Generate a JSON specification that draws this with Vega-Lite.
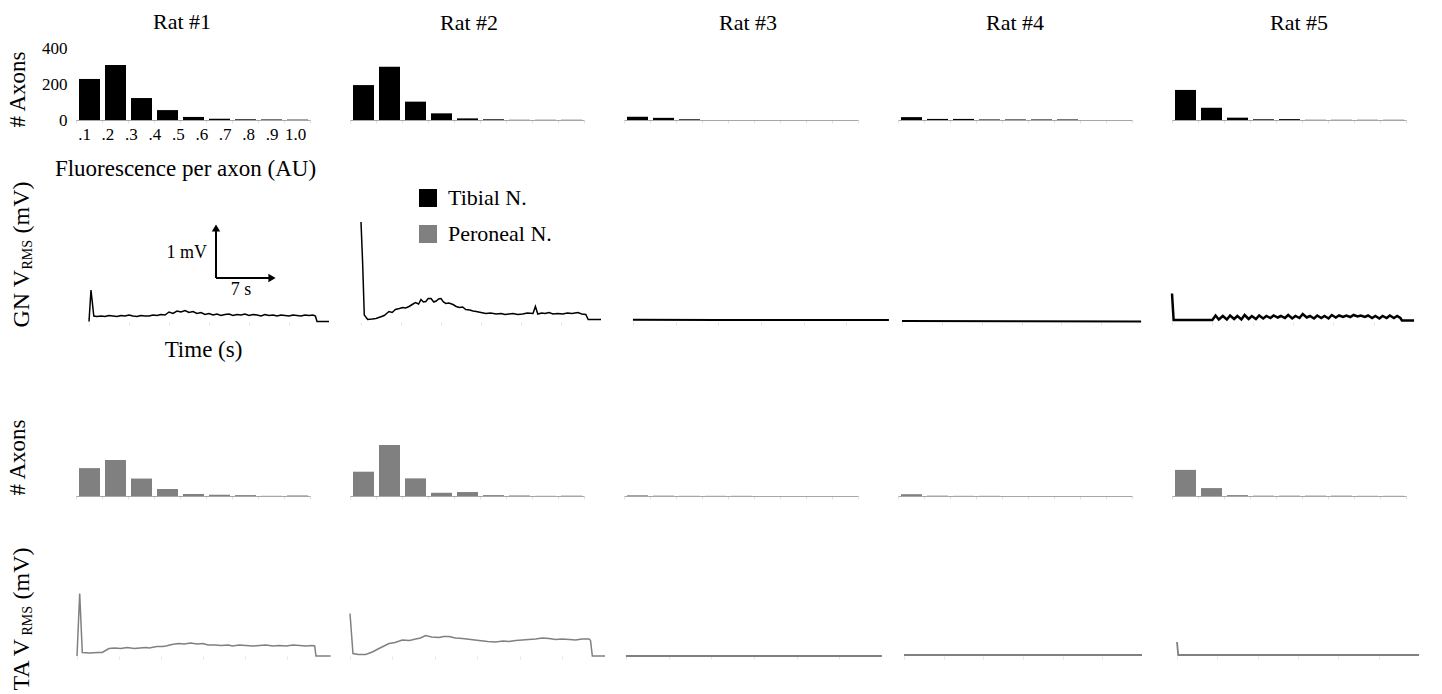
{
  "$schema": "https://vega.github.io/schema/vega-lite/v6.json",
  "background": "white",
  "padding": {"left": 6, "top": 11, "right": 5, "bottom": 5},
  "bounds": "flush",
  "columns": 5,
  "spacing": {"row": 102, "column": 40},
  "datasets": {
    "hist": [
      {"rat":"Rat #1","nerve":"Tibial N.","lo":0.1,"hi":0.2,"axons":228},
      {"rat":"Rat #1","nerve":"Tibial N.","lo":0.2,"hi":0.3,"axons":305},
      {"rat":"Rat #1","nerve":"Tibial N.","lo":0.3,"hi":0.4,"axons":122},
      {"rat":"Rat #1","nerve":"Tibial N.","lo":0.4,"hi":0.5,"axons":55},
      {"rat":"Rat #1","nerve":"Tibial N.","lo":0.5,"hi":0.6,"axons":17},
      {"rat":"Rat #1","nerve":"Tibial N.","lo":0.6,"hi":0.7,"axons":7},
      {"rat":"Rat #1","nerve":"Tibial N.","lo":0.7,"hi":0.8,"axons":4},
      {"rat":"Rat #1","nerve":"Tibial N.","lo":0.8,"hi":0.9,"axons":3},
      {"rat":"Rat #1","nerve":"Tibial N.","lo":0.9,"hi":1.0,"axons":2},
      {"rat":"Rat #2","nerve":"Tibial N.","lo":0.1,"hi":0.2,"axons":194},
      {"rat":"Rat #2","nerve":"Tibial N.","lo":0.2,"hi":0.3,"axons":296},
      {"rat":"Rat #2","nerve":"Tibial N.","lo":0.3,"hi":0.4,"axons":102},
      {"rat":"Rat #2","nerve":"Tibial N.","lo":0.4,"hi":0.5,"axons":37},
      {"rat":"Rat #2","nerve":"Tibial N.","lo":0.5,"hi":0.6,"axons":9},
      {"rat":"Rat #2","nerve":"Tibial N.","lo":0.6,"hi":0.7,"axons":4},
      {"rat":"Rat #2","nerve":"Tibial N.","lo":0.7,"hi":0.8,"axons":1},
      {"rat":"Rat #2","nerve":"Tibial N.","lo":0.8,"hi":0.9,"axons":1},
      {"rat":"Rat #2","nerve":"Tibial N.","lo":0.9,"hi":1.0,"axons":1},
      {"rat":"Rat #3","nerve":"Tibial N.","lo":0.1,"hi":0.2,"axons":18},
      {"rat":"Rat #3","nerve":"Tibial N.","lo":0.2,"hi":0.3,"axons":12},
      {"rat":"Rat #3","nerve":"Tibial N.","lo":0.3,"hi":0.4,"axons":4},
      {"rat":"Rat #3","nerve":"Tibial N.","lo":0.4,"hi":0.5,"axons":0},
      {"rat":"Rat #3","nerve":"Tibial N.","lo":0.5,"hi":0.6,"axons":0},
      {"rat":"Rat #3","nerve":"Tibial N.","lo":0.6,"hi":0.7,"axons":0},
      {"rat":"Rat #3","nerve":"Tibial N.","lo":0.7,"hi":0.8,"axons":0},
      {"rat":"Rat #3","nerve":"Tibial N.","lo":0.8,"hi":0.9,"axons":0},
      {"rat":"Rat #3","nerve":"Tibial N.","lo":0.9,"hi":1.0,"axons":0},
      {"rat":"Rat #4","nerve":"Tibial N.","lo":0.1,"hi":0.2,"axons":16},
      {"rat":"Rat #4","nerve":"Tibial N.","lo":0.2,"hi":0.3,"axons":6},
      {"rat":"Rat #4","nerve":"Tibial N.","lo":0.3,"hi":0.4,"axons":6},
      {"rat":"Rat #4","nerve":"Tibial N.","lo":0.4,"hi":0.5,"axons":3},
      {"rat":"Rat #4","nerve":"Tibial N.","lo":0.5,"hi":0.6,"axons":3},
      {"rat":"Rat #4","nerve":"Tibial N.","lo":0.6,"hi":0.7,"axons":3},
      {"rat":"Rat #4","nerve":"Tibial N.","lo":0.7,"hi":0.8,"axons":3},
      {"rat":"Rat #4","nerve":"Tibial N.","lo":0.8,"hi":0.9,"axons":0},
      {"rat":"Rat #4","nerve":"Tibial N.","lo":0.9,"hi":1.0,"axons":0},
      {"rat":"Rat #5","nerve":"Tibial N.","lo":0.1,"hi":0.2,"axons":167},
      {"rat":"Rat #5","nerve":"Tibial N.","lo":0.2,"hi":0.3,"axons":68},
      {"rat":"Rat #5","nerve":"Tibial N.","lo":0.3,"hi":0.4,"axons":13},
      {"rat":"Rat #5","nerve":"Tibial N.","lo":0.4,"hi":0.5,"axons":4},
      {"rat":"Rat #5","nerve":"Tibial N.","lo":0.5,"hi":0.6,"axons":5},
      {"rat":"Rat #5","nerve":"Tibial N.","lo":0.6,"hi":0.7,"axons":1},
      {"rat":"Rat #5","nerve":"Tibial N.","lo":0.7,"hi":0.8,"axons":1},
      {"rat":"Rat #5","nerve":"Tibial N.","lo":0.8,"hi":0.9,"axons":1},
      {"rat":"Rat #5","nerve":"Tibial N.","lo":0.9,"hi":1.0,"axons":1},
      {"rat":"Rat #1","nerve":"Peroneal N.","lo":0.1,"hi":0.2,"axons":155},
      {"rat":"Rat #1","nerve":"Peroneal N.","lo":0.2,"hi":0.3,"axons":200},
      {"rat":"Rat #1","nerve":"Peroneal N.","lo":0.3,"hi":0.4,"axons":97},
      {"rat":"Rat #1","nerve":"Peroneal N.","lo":0.4,"hi":0.5,"axons":39},
      {"rat":"Rat #1","nerve":"Peroneal N.","lo":0.5,"hi":0.6,"axons":11},
      {"rat":"Rat #1","nerve":"Peroneal N.","lo":0.6,"hi":0.7,"axons":7},
      {"rat":"Rat #1","nerve":"Peroneal N.","lo":0.7,"hi":0.8,"axons":5},
      {"rat":"Rat #1","nerve":"Peroneal N.","lo":0.8,"hi":0.9,"axons":1},
      {"rat":"Rat #1","nerve":"Peroneal N.","lo":0.9,"hi":1.0,"axons":3},
      {"rat":"Rat #2","nerve":"Peroneal N.","lo":0.1,"hi":0.2,"axons":135},
      {"rat":"Rat #2","nerve":"Peroneal N.","lo":0.2,"hi":0.3,"axons":283},
      {"rat":"Rat #2","nerve":"Peroneal N.","lo":0.3,"hi":0.4,"axons":98},
      {"rat":"Rat #2","nerve":"Peroneal N.","lo":0.4,"hi":0.5,"axons":18},
      {"rat":"Rat #2","nerve":"Peroneal N.","lo":0.5,"hi":0.6,"axons":22},
      {"rat":"Rat #2","nerve":"Peroneal N.","lo":0.6,"hi":0.7,"axons":5},
      {"rat":"Rat #2","nerve":"Peroneal N.","lo":0.7,"hi":0.8,"axons":3},
      {"rat":"Rat #2","nerve":"Peroneal N.","lo":0.8,"hi":0.9,"axons":1},
      {"rat":"Rat #2","nerve":"Peroneal N.","lo":0.9,"hi":1.0,"axons":2},
      {"rat":"Rat #3","nerve":"Peroneal N.","lo":0.1,"hi":0.2,"axons":4},
      {"rat":"Rat #3","nerve":"Peroneal N.","lo":0.2,"hi":0.3,"axons":2},
      {"rat":"Rat #3","nerve":"Peroneal N.","lo":0.3,"hi":0.4,"axons":1},
      {"rat":"Rat #3","nerve":"Peroneal N.","lo":0.4,"hi":0.5,"axons":1},
      {"rat":"Rat #3","nerve":"Peroneal N.","lo":0.5,"hi":0.6,"axons":1},
      {"rat":"Rat #3","nerve":"Peroneal N.","lo":0.6,"hi":0.7,"axons":0},
      {"rat":"Rat #3","nerve":"Peroneal N.","lo":0.7,"hi":0.8,"axons":0},
      {"rat":"Rat #3","nerve":"Peroneal N.","lo":0.8,"hi":0.9,"axons":0},
      {"rat":"Rat #3","nerve":"Peroneal N.","lo":0.9,"hi":1.0,"axons":0},
      {"rat":"Rat #4","nerve":"Peroneal N.","lo":0.1,"hi":0.2,"axons":10},
      {"rat":"Rat #4","nerve":"Peroneal N.","lo":0.2,"hi":0.3,"axons":2},
      {"rat":"Rat #4","nerve":"Peroneal N.","lo":0.3,"hi":0.4,"axons":1},
      {"rat":"Rat #4","nerve":"Peroneal N.","lo":0.4,"hi":0.5,"axons":1},
      {"rat":"Rat #4","nerve":"Peroneal N.","lo":0.5,"hi":0.6,"axons":0},
      {"rat":"Rat #4","nerve":"Peroneal N.","lo":0.6,"hi":0.7,"axons":0},
      {"rat":"Rat #4","nerve":"Peroneal N.","lo":0.7,"hi":0.8,"axons":0},
      {"rat":"Rat #4","nerve":"Peroneal N.","lo":0.8,"hi":0.9,"axons":0},
      {"rat":"Rat #4","nerve":"Peroneal N.","lo":0.9,"hi":1.0,"axons":0},
      {"rat":"Rat #5","nerve":"Peroneal N.","lo":0.1,"hi":0.2,"axons":145},
      {"rat":"Rat #5","nerve":"Peroneal N.","lo":0.2,"hi":0.3,"axons":44},
      {"rat":"Rat #5","nerve":"Peroneal N.","lo":0.3,"hi":0.4,"axons":5},
      {"rat":"Rat #5","nerve":"Peroneal N.","lo":0.4,"hi":0.5,"axons":2},
      {"rat":"Rat #5","nerve":"Peroneal N.","lo":0.5,"hi":0.6,"axons":2},
      {"rat":"Rat #5","nerve":"Peroneal N.","lo":0.6,"hi":0.7,"axons":2},
      {"rat":"Rat #5","nerve":"Peroneal N.","lo":0.7,"hi":0.8,"axons":2},
      {"rat":"Rat #5","nerve":"Peroneal N.","lo":0.8,"hi":0.9,"axons":1},
      {"rat":"Rat #5","nerve":"Peroneal N.","lo":0.9,"hi":1.0,"axons":1}
    ],
    "trace": [
      {"rat":"Rat #1","muscle":"GN","t":0,"mV":0.01},{"rat":"Rat #1","muscle":"GN","t":0.25,"mV":0.64},{"rat":"Rat #1","muscle":"GN","t":0.6,"mV":0.12},
      {"rat":"Rat #1","muscle":"GN","t":1.0,"mV":0.11},{"rat":"Rat #1","muscle":"GN","t":1.5,"mV":0.12},{"rat":"Rat #1","muscle":"GN","t":2.0,"mV":0.11},
      {"rat":"Rat #1","muscle":"GN","t":2.5,"mV":0.13},{"rat":"Rat #1","muscle":"GN","t":3.0,"mV":0.12},{"rat":"Rat #1","muscle":"GN","t":3.5,"mV":0.11},
      {"rat":"Rat #1","muscle":"GN","t":4.0,"mV":0.13},{"rat":"Rat #1","muscle":"GN","t":4.5,"mV":0.12},{"rat":"Rat #1","muscle":"GN","t":5.0,"mV":0.14},
      {"rat":"Rat #1","muscle":"GN","t":5.5,"mV":0.12},{"rat":"Rat #1","muscle":"GN","t":6.0,"mV":0.11},{"rat":"Rat #1","muscle":"GN","t":6.5,"mV":0.13},
      {"rat":"Rat #1","muscle":"GN","t":7.0,"mV":0.12},{"rat":"Rat #1","muscle":"GN","t":7.5,"mV":0.12},{"rat":"Rat #1","muscle":"GN","t":8.0,"mV":0.14},
      {"rat":"Rat #1","muscle":"GN","t":8.5,"mV":0.13},{"rat":"Rat #1","muscle":"GN","t":9.0,"mV":0.15},{"rat":"Rat #1","muscle":"GN","t":9.5,"mV":0.14},
      {"rat":"Rat #1","muscle":"GN","t":10.0,"mV":0.2},{"rat":"Rat #1","muscle":"GN","t":10.5,"mV":0.17},{"rat":"Rat #1","muscle":"GN","t":11.0,"mV":0.22},
      {"rat":"Rat #1","muscle":"GN","t":11.5,"mV":0.2},{"rat":"Rat #1","muscle":"GN","t":12.0,"mV":0.23},{"rat":"Rat #1","muscle":"GN","t":12.5,"mV":0.19},
      {"rat":"Rat #1","muscle":"GN","t":13.0,"mV":0.21},{"rat":"Rat #1","muscle":"GN","t":13.5,"mV":0.17},{"rat":"Rat #1","muscle":"GN","t":14.0,"mV":0.19},
      {"rat":"Rat #1","muscle":"GN","t":14.5,"mV":0.15},{"rat":"Rat #1","muscle":"GN","t":15.0,"mV":0.17},{"rat":"Rat #1","muscle":"GN","t":15.5,"mV":0.14},
      {"rat":"Rat #1","muscle":"GN","t":16.0,"mV":0.16},{"rat":"Rat #1","muscle":"GN","t":16.5,"mV":0.13},{"rat":"Rat #1","muscle":"GN","t":17.0,"mV":0.15},
      {"rat":"Rat #1","muscle":"GN","t":17.5,"mV":0.16},{"rat":"Rat #1","muscle":"GN","t":18.0,"mV":0.13},{"rat":"Rat #1","muscle":"GN","t":18.5,"mV":0.15},
      {"rat":"Rat #1","muscle":"GN","t":19.0,"mV":0.14},{"rat":"Rat #1","muscle":"GN","t":19.5,"mV":0.16},{"rat":"Rat #1","muscle":"GN","t":20.0,"mV":0.13},
      {"rat":"Rat #1","muscle":"GN","t":20.5,"mV":0.15},{"rat":"Rat #1","muscle":"GN","t":21.0,"mV":0.14},{"rat":"Rat #1","muscle":"GN","t":21.5,"mV":0.12},
      {"rat":"Rat #1","muscle":"GN","t":22.0,"mV":0.15},{"rat":"Rat #1","muscle":"GN","t":22.5,"mV":0.13},{"rat":"Rat #1","muscle":"GN","t":23.0,"mV":0.14},
      {"rat":"Rat #1","muscle":"GN","t":23.5,"mV":0.12},{"rat":"Rat #1","muscle":"GN","t":24.0,"mV":0.14},{"rat":"Rat #1","muscle":"GN","t":24.5,"mV":0.13},
      {"rat":"Rat #1","muscle":"GN","t":25.0,"mV":0.12},{"rat":"Rat #1","muscle":"GN","t":25.5,"mV":0.14},{"rat":"Rat #1","muscle":"GN","t":26.0,"mV":0.13},
      {"rat":"Rat #1","muscle":"GN","t":26.5,"mV":0.12},{"rat":"Rat #1","muscle":"GN","t":27.0,"mV":0.14},{"rat":"Rat #1","muscle":"GN","t":27.5,"mV":0.13},
      {"rat":"Rat #1","muscle":"GN","t":28.0,"mV":0.14},{"rat":"Rat #1","muscle":"GN","t":28.3,"mV":0.12},{"rat":"Rat #1","muscle":"GN","t":28.5,"mV":0.01},
      {"rat":"Rat #1","muscle":"GN","t":30.0,"mV":0.01},

      {"rat":"Rat #2","muscle":"GN","t":0,"mV":2.0},{"rat":"Rat #2","muscle":"GN","t":0.2,"mV":1.2},{"rat":"Rat #2","muscle":"GN","t":0.41,"mV":0.14},
      {"rat":"Rat #2","muscle":"GN","t":0.83,"mV":0.05},{"rat":"Rat #2","muscle":"GN","t":1.4,"mV":0.06},{"rat":"Rat #2","muscle":"GN","t":1.87,"mV":0.07},
      {"rat":"Rat #2","muscle":"GN","t":2.4,"mV":0.1},{"rat":"Rat #2","muscle":"GN","t":2.9,"mV":0.13},{"rat":"Rat #2","muscle":"GN","t":3.5,"mV":0.21},
      {"rat":"Rat #2","muscle":"GN","t":3.9,"mV":0.19},{"rat":"Rat #2","muscle":"GN","t":4.3,"mV":0.25},{"rat":"Rat #2","muscle":"GN","t":4.8,"mV":0.27},
      {"rat":"Rat #2","muscle":"GN","t":5.2,"mV":0.29},{"rat":"Rat #2","muscle":"GN","t":5.6,"mV":0.28},{"rat":"Rat #2","muscle":"GN","t":6.0,"mV":0.31},
      {"rat":"Rat #2","muscle":"GN","t":6.4,"mV":0.35},{"rat":"Rat #2","muscle":"GN","t":6.8,"mV":0.39},{"rat":"Rat #2","muscle":"GN","t":7.2,"mV":0.36},
      {"rat":"Rat #2","muscle":"GN","t":7.5,"mV":0.45},{"rat":"Rat #2","muscle":"GN","t":7.8,"mV":0.4},{"rat":"Rat #2","muscle":"GN","t":8.1,"mV":0.41},
      {"rat":"Rat #2","muscle":"GN","t":8.4,"mV":0.47},{"rat":"Rat #2","muscle":"GN","t":8.75,"mV":0.47},{"rat":"Rat #2","muscle":"GN","t":9.1,"mV":0.4},
      {"rat":"Rat #2","muscle":"GN","t":9.4,"mV":0.42},{"rat":"Rat #2","muscle":"GN","t":9.7,"mV":0.46},{"rat":"Rat #2","muscle":"GN","t":10.0,"mV":0.47},
      {"rat":"Rat #2","muscle":"GN","t":10.3,"mV":0.4},{"rat":"Rat #2","muscle":"GN","t":10.6,"mV":0.37},{"rat":"Rat #2","muscle":"GN","t":11.0,"mV":0.38},
      {"rat":"Rat #2","muscle":"GN","t":11.5,"mV":0.35},{"rat":"Rat #2","muscle":"GN","t":11.9,"mV":0.31},{"rat":"Rat #2","muscle":"GN","t":12.3,"mV":0.29},
      {"rat":"Rat #2","muscle":"GN","t":12.7,"mV":0.3},{"rat":"Rat #2","muscle":"GN","t":13.1,"mV":0.25},{"rat":"Rat #2","muscle":"GN","t":13.6,"mV":0.24},
      {"rat":"Rat #2","muscle":"GN","t":14.0,"mV":0.22},{"rat":"Rat #2","muscle":"GN","t":14.4,"mV":0.21},{"rat":"Rat #2","muscle":"GN","t":15.0,"mV":0.19},
      {"rat":"Rat #2","muscle":"GN","t":15.6,"mV":0.17},{"rat":"Rat #2","muscle":"GN","t":16.2,"mV":0.18},{"rat":"Rat #2","muscle":"GN","t":16.9,"mV":0.16},
      {"rat":"Rat #2","muscle":"GN","t":17.5,"mV":0.17},{"rat":"Rat #2","muscle":"GN","t":18.0,"mV":0.15},{"rat":"Rat #2","muscle":"GN","t":18.5,"mV":0.16},
      {"rat":"Rat #2","muscle":"GN","t":19.0,"mV":0.17},{"rat":"Rat #2","muscle":"GN","t":19.6,"mV":0.15},{"rat":"Rat #2","muscle":"GN","t":20.2,"mV":0.16},
      {"rat":"Rat #2","muscle":"GN","t":20.8,"mV":0.18},{"rat":"Rat #2","muscle":"GN","t":21.5,"mV":0.17},{"rat":"Rat #2","muscle":"GN","t":21.8,"mV":0.31},
      {"rat":"Rat #2","muscle":"GN","t":22.1,"mV":0.16},{"rat":"Rat #2","muscle":"GN","t":22.6,"mV":0.18},{"rat":"Rat #2","muscle":"GN","t":23.0,"mV":0.17},
      {"rat":"Rat #2","muscle":"GN","t":23.5,"mV":0.19},{"rat":"Rat #2","muscle":"GN","t":24.0,"mV":0.16},{"rat":"Rat #2","muscle":"GN","t":24.6,"mV":0.17},
      {"rat":"Rat #2","muscle":"GN","t":25.2,"mV":0.16},{"rat":"Rat #2","muscle":"GN","t":25.8,"mV":0.18},{"rat":"Rat #2","muscle":"GN","t":26.4,"mV":0.17},
      {"rat":"Rat #2","muscle":"GN","t":27.1,"mV":0.19},{"rat":"Rat #2","muscle":"GN","t":27.6,"mV":0.16},{"rat":"Rat #2","muscle":"GN","t":28.1,"mV":0.15},
      {"rat":"Rat #2","muscle":"GN","t":28.4,"mV":0.05},{"rat":"Rat #2","muscle":"GN","t":30.0,"mV":0.05},

      {"rat":"Rat #3","muscle":"GN","t":0,"mV":0.045},{"rat":"Rat #3","muscle":"GN","t":10,"mV":0.04},{"rat":"Rat #3","muscle":"GN","t":20,"mV":0.04},{"rat":"Rat #3","muscle":"GN","t":30,"mV":0.04},
      {"rat":"Rat #4","muscle":"GN","t":0,"mV":0.02},{"rat":"Rat #4","muscle":"GN","t":15,"mV":0.015},{"rat":"Rat #4","muscle":"GN","t":30,"mV":0.01},

      {"rat":"Rat #5","muscle":"GN","t":0,"mV":0.57},{"rat":"Rat #5","muscle":"GN","t":0.2,"mV":0.04},{"rat":"Rat #5","muscle":"GN","t":5.0,"mV":0.04},
      {"rat":"Rat #5","muscle":"GN","t":5.4,"mV":0.13},{"rat":"Rat #5","muscle":"GN","t":5.8,"mV":0.05},{"rat":"Rat #5","muscle":"GN","t":6.3,"mV":0.12},
      {"rat":"Rat #5","muscle":"GN","t":6.8,"mV":0.05},{"rat":"Rat #5","muscle":"GN","t":7.2,"mV":0.13},{"rat":"Rat #5","muscle":"GN","t":7.7,"mV":0.06},
      {"rat":"Rat #5","muscle":"GN","t":8.1,"mV":0.12},{"rat":"Rat #5","muscle":"GN","t":8.6,"mV":0.05},{"rat":"Rat #5","muscle":"GN","t":9.0,"mV":0.14},
      {"rat":"Rat #5","muscle":"GN","t":9.5,"mV":0.06},{"rat":"Rat #5","muscle":"GN","t":9.9,"mV":0.12},{"rat":"Rat #5","muscle":"GN","t":10.4,"mV":0.06},
      {"rat":"Rat #5","muscle":"GN","t":10.8,"mV":0.13},{"rat":"Rat #5","muscle":"GN","t":11.3,"mV":0.07},{"rat":"Rat #5","muscle":"GN","t":11.7,"mV":0.12},
      {"rat":"Rat #5","muscle":"GN","t":12.2,"mV":0.08},{"rat":"Rat #5","muscle":"GN","t":12.6,"mV":0.13},{"rat":"Rat #5","muscle":"GN","t":13.1,"mV":0.09},
      {"rat":"Rat #5","muscle":"GN","t":13.5,"mV":0.12},{"rat":"Rat #5","muscle":"GN","t":14.0,"mV":0.08},{"rat":"Rat #5","muscle":"GN","t":14.4,"mV":0.14},
      {"rat":"Rat #5","muscle":"GN","t":14.9,"mV":0.07},{"rat":"Rat #5","muscle":"GN","t":15.3,"mV":0.12},{"rat":"Rat #5","muscle":"GN","t":15.8,"mV":0.08},
      {"rat":"Rat #5","muscle":"GN","t":16.2,"mV":0.16},{"rat":"Rat #5","muscle":"GN","t":16.7,"mV":0.09},{"rat":"Rat #5","muscle":"GN","t":17.1,"mV":0.12},
      {"rat":"Rat #5","muscle":"GN","t":17.6,"mV":0.07},{"rat":"Rat #5","muscle":"GN","t":18.0,"mV":0.13},{"rat":"Rat #5","muscle":"GN","t":18.5,"mV":0.08},
      {"rat":"Rat #5","muscle":"GN","t":18.9,"mV":0.12},{"rat":"Rat #5","muscle":"GN","t":19.4,"mV":0.07},{"rat":"Rat #5","muscle":"GN","t":19.8,"mV":0.14},
      {"rat":"Rat #5","muscle":"GN","t":20.3,"mV":0.09},{"rat":"Rat #5","muscle":"GN","t":20.7,"mV":0.13},{"rat":"Rat #5","muscle":"GN","t":21.2,"mV":0.1},
      {"rat":"Rat #5","muscle":"GN","t":21.6,"mV":0.13},{"rat":"Rat #5","muscle":"GN","t":22.1,"mV":0.1},{"rat":"Rat #5","muscle":"GN","t":22.5,"mV":0.14},
      {"rat":"Rat #5","muscle":"GN","t":23.0,"mV":0.11},{"rat":"Rat #5","muscle":"GN","t":23.4,"mV":0.13},{"rat":"Rat #5","muscle":"GN","t":23.9,"mV":0.1},
      {"rat":"Rat #5","muscle":"GN","t":24.3,"mV":0.13},{"rat":"Rat #5","muscle":"GN","t":24.8,"mV":0.08},{"rat":"Rat #5","muscle":"GN","t":25.2,"mV":0.12},
      {"rat":"Rat #5","muscle":"GN","t":25.7,"mV":0.07},{"rat":"Rat #5","muscle":"GN","t":26.1,"mV":0.12},{"rat":"Rat #5","muscle":"GN","t":26.6,"mV":0.08},
      {"rat":"Rat #5","muscle":"GN","t":27.0,"mV":0.13},{"rat":"Rat #5","muscle":"GN","t":27.5,"mV":0.08},{"rat":"Rat #5","muscle":"GN","t":27.9,"mV":0.12},
      {"rat":"Rat #5","muscle":"GN","t":28.3,"mV":0.08},{"rat":"Rat #5","muscle":"GN","t":28.5,"mV":0.03},{"rat":"Rat #5","muscle":"GN","t":30.0,"mV":0.03},

      {"rat":"Rat #1","muscle":"TA","t":0,"mV":0.0},{"rat":"Rat #1","muscle":"TA","t":0.32,"mV":1.25},{"rat":"Rat #1","muscle":"TA","t":0.63,"mV":0.07},
      {"rat":"Rat #1","muscle":"TA","t":1.5,"mV":0.06},{"rat":"Rat #1","muscle":"TA","t":2.5,"mV":0.07},{"rat":"Rat #1","muscle":"TA","t":3.0,"mV":0.07},
      {"rat":"Rat #1","muscle":"TA","t":3.8,"mV":0.15},{"rat":"Rat #1","muscle":"TA","t":4.5,"mV":0.16},{"rat":"Rat #1","muscle":"TA","t":5.2,"mV":0.15},
      {"rat":"Rat #1","muscle":"TA","t":6.0,"mV":0.17},{"rat":"Rat #1","muscle":"TA","t":6.8,"mV":0.15},{"rat":"Rat #1","muscle":"TA","t":7.5,"mV":0.16},
      {"rat":"Rat #1","muscle":"TA","t":8.2,"mV":0.17},{"rat":"Rat #1","muscle":"TA","t":8.6,"mV":0.16},{"rat":"Rat #1","muscle":"TA","t":9.5,"mV":0.19},
      {"rat":"Rat #1","muscle":"TA","t":10.2,"mV":0.19},{"rat":"Rat #1","muscle":"TA","t":10.6,"mV":0.2},{"rat":"Rat #1","muscle":"TA","t":11.3,"mV":0.23},
      {"rat":"Rat #1","muscle":"TA","t":12.1,"mV":0.25},{"rat":"Rat #1","muscle":"TA","t":12.8,"mV":0.24},{"rat":"Rat #1","muscle":"TA","t":13.5,"mV":0.26},
      {"rat":"Rat #1","muscle":"TA","t":14.3,"mV":0.24},{"rat":"Rat #1","muscle":"TA","t":15.0,"mV":0.25},{"rat":"Rat #1","muscle":"TA","t":15.6,"mV":0.22},
      {"rat":"Rat #1","muscle":"TA","t":16.4,"mV":0.22},{"rat":"Rat #1","muscle":"TA","t":17.2,"mV":0.21},{"rat":"Rat #1","muscle":"TA","t":18.0,"mV":0.22},
      {"rat":"Rat #1","muscle":"TA","t":18.5,"mV":0.2},{"rat":"Rat #1","muscle":"TA","t":19.3,"mV":0.22},{"rat":"Rat #1","muscle":"TA","t":20.1,"mV":0.21},
      {"rat":"Rat #1","muscle":"TA","t":20.9,"mV":0.2},{"rat":"Rat #1","muscle":"TA","t":21.7,"mV":0.21},{"rat":"Rat #1","muscle":"TA","t":22.5,"mV":0.22},
      {"rat":"Rat #1","muscle":"TA","t":23.3,"mV":0.2},{"rat":"Rat #1","muscle":"TA","t":24.1,"mV":0.21},{"rat":"Rat #1","muscle":"TA","t":24.9,"mV":0.2},
      {"rat":"Rat #1","muscle":"TA","t":25.7,"mV":0.22},{"rat":"Rat #1","muscle":"TA","t":26.5,"mV":0.21},{"rat":"Rat #1","muscle":"TA","t":27.3,"mV":0.2},
      {"rat":"Rat #1","muscle":"TA","t":28.0,"mV":0.21},{"rat":"Rat #1","muscle":"TA","t":28.3,"mV":0.2},{"rat":"Rat #1","muscle":"TA","t":28.45,"mV":0.0},
      {"rat":"Rat #1","muscle":"TA","t":30.2,"mV":0.0},

      {"rat":"Rat #2","muscle":"TA","t":0,"mV":0.85},{"rat":"Rat #2","muscle":"TA","t":0.35,"mV":0.05},{"rat":"Rat #2","muscle":"TA","t":1.0,"mV":0.03},
      {"rat":"Rat #2","muscle":"TA","t":1.84,"mV":0.03},{"rat":"Rat #2","muscle":"TA","t":2.63,"mV":0.08},{"rat":"Rat #2","muscle":"TA","t":3.41,"mV":0.15},
      {"rat":"Rat #2","muscle":"TA","t":4.0,"mV":0.2},{"rat":"Rat #2","muscle":"TA","t":4.59,"mV":0.25},{"rat":"Rat #2","muscle":"TA","t":5.3,"mV":0.27},
      {"rat":"Rat #2","muscle":"TA","t":6.16,"mV":0.32},{"rat":"Rat #2","muscle":"TA","t":7.0,"mV":0.31},{"rat":"Rat #2","muscle":"TA","t":7.73,"mV":0.34},
      {"rat":"Rat #2","muscle":"TA","t":8.3,"mV":0.36},{"rat":"Rat #2","muscle":"TA","t":8.9,"mV":0.41},{"rat":"Rat #2","muscle":"TA","t":9.6,"mV":0.38},
      {"rat":"Rat #2","muscle":"TA","t":10.47,"mV":0.37},{"rat":"Rat #2","muscle":"TA","t":11.0,"mV":0.39},{"rat":"Rat #2","muscle":"TA","t":11.65,"mV":0.39},
      {"rat":"Rat #2","muscle":"TA","t":12.4,"mV":0.36},{"rat":"Rat #2","muscle":"TA","t":13.22,"mV":0.35},{"rat":"Rat #2","muscle":"TA","t":14.2,"mV":0.33},
      {"rat":"Rat #2","muscle":"TA","t":15.18,"mV":0.31},{"rat":"Rat #2","muscle":"TA","t":16.2,"mV":0.29},{"rat":"Rat #2","muscle":"TA","t":17.14,"mV":0.28},
      {"rat":"Rat #2","muscle":"TA","t":18.0,"mV":0.3},{"rat":"Rat #2","muscle":"TA","t":18.71,"mV":0.29},{"rat":"Rat #2","muscle":"TA","t":19.5,"mV":0.31},
      {"rat":"Rat #2","muscle":"TA","t":20.27,"mV":0.32},{"rat":"Rat #2","muscle":"TA","t":21.0,"mV":0.33},{"rat":"Rat #2","muscle":"TA","t":21.84,"mV":0.34},
      {"rat":"Rat #2","muscle":"TA","t":22.6,"mV":0.36},{"rat":"Rat #2","muscle":"TA","t":23.41,"mV":0.35},{"rat":"Rat #2","muscle":"TA","t":24.2,"mV":0.33},
      {"rat":"Rat #2","muscle":"TA","t":24.98,"mV":0.34},{"rat":"Rat #2","muscle":"TA","t":25.8,"mV":0.33},{"rat":"Rat #2","muscle":"TA","t":26.55,"mV":0.32},
      {"rat":"Rat #2","muscle":"TA","t":27.3,"mV":0.34},{"rat":"Rat #2","muscle":"TA","t":28.12,"mV":0.34},{"rat":"Rat #2","muscle":"TA","t":28.3,"mV":0.31},
      {"rat":"Rat #2","muscle":"TA","t":28.51,"mV":0.0},{"rat":"Rat #2","muscle":"TA","t":30.0,"mV":0.0},

      {"rat":"Rat #3","muscle":"TA","t":0,"mV":0.0},{"rat":"Rat #3","muscle":"TA","t":15,"mV":0.0},{"rat":"Rat #3","muscle":"TA","t":30,"mV":0.0},
      {"rat":"Rat #4","muscle":"TA","t":0,"mV":0.02},{"rat":"Rat #4","muscle":"TA","t":15,"mV":0.02},{"rat":"Rat #4","muscle":"TA","t":30,"mV":0.02},
      {"rat":"Rat #5","muscle":"TA","t":0,"mV":0.28},{"rat":"Rat #5","muscle":"TA","t":0.15,"mV":0.02},{"rat":"Rat #5","muscle":"TA","t":15,"mV":0.02},{"rat":"Rat #5","muscle":"TA","t":30,"mV":0.02}
    ],
    "scalebar": [
      {"part":"vertical","t":15.875,"t2":15.875,"v":0.88,"v2":1.88,"label":"1 mV"},
      {"part":"horizontal","t":15.875,"t2":22.875,"v":0.88,"v2":0.88,"label":"7 s"}
    ]
  },
  "concat": [
    {
      "title": {"text": "Rat #1", "offset": 5, "dx": -11},
      "width": 234, "height": 72,
      "data": {"name": "hist"},
      "transform": [{"filter": "datum.rat == 'Rat #1' && datum.nerve == 'Tibial N.'"}],
      "mark": {"type": "bar", "binSpacing": 5},
      "encoding": {
        "x": {"field": "lo", "type": "quantitative", "bin": "binned", "scale": {"domain": [0.1, 1.0], "nice": false, "zero": false},
              "axis": {"title": "Fluorescence per axon (AU)", "values": [0.1,0.2,0.3,0.4,0.5,0.6,0.7,0.8,0.9,1.0],
                       "labelExpr": "datum.value >= 0.95 ? '1.0' : replace(format(datum.value, '.1f'), '0.', '.')",
                       "labelOffset": {"expr": "8 - (datum.value - 0.1) * 25.5"},
                       "labelPadding": 3, "labelFlush": false, "labelOverlap": false, "tickSize": 3, "tickColor": "#e2e2e2",
                       "domainColor": "#a6a6a6", "titleX": 109, "titleY": 48, "titleBaseline": "middle"}},
        "x2": {"field": "hi"},
        "y": {"field": "axons", "type": "quantitative", "scale": {"domain": [0, 400], "nice": false},
              "axis": {"title": "# Axons", "values": [0, 200, 400], "domain": false, "ticks": false, "labelPadding": 9,
                       "titleX": -52, "titleY": 41, "titleBaseline": "alphabetic", "titleAngle": -90}},
        "color": {"field": "nerve", "type": "nominal", "scale": {"domain": ["Tibial N.", "Peroneal N."], "range": ["#000000", "#808080"]}, "legend": {"title": null}}
      }
    },
    {
      "title": {"text": "Rat #2", "dx": 2},
      "width": 234, "height": 72,
      "data": {"name": "hist"},
      "transform": [{"filter": "datum.rat == 'Rat #2' && datum.nerve == 'Tibial N.'"}],
      "mark": {"type": "bar", "binSpacing": 5},
      "encoding": {
        "x": {"field": "lo", "type": "quantitative", "bin": "binned", "scale": {"domain": [0.1, 1.0], "nice": false, "zero": false},
              "axis": {"title": null, "labels": false, "values": [0.1,0.2,0.3,0.4,0.5,0.6,0.7,0.8,0.9,1.0], "tickSize": 3, "tickColor": "#e2e2e2", "domainColor": "#a6a6a6"}},
        "x2": {"field": "hi"},
        "y": {"field": "axons", "type": "quantitative", "scale": {"domain": [0, 400], "nice": false}, "axis": null},
        "color": {"field": "nerve", "type": "nominal", "scale": {"domain": ["Tibial N.", "Peroneal N."], "range": ["#000000", "#808080"]}, "legend": {"title": null}}
      }
    },
    {
      "title": {"text": "Rat #3", "dx": 7},
      "width": 234, "height": 72,
      "data": {"name": "hist"},
      "transform": [{"filter": "datum.rat == 'Rat #3' && datum.nerve == 'Tibial N.'"}],
      "mark": {"type": "bar", "binSpacing": 5},
      "encoding": {
        "x": {"field": "lo", "type": "quantitative", "bin": "binned", "scale": {"domain": [0.1, 1.0], "nice": false, "zero": false},
              "axis": {"title": null, "labels": false, "values": [0.1,0.2,0.3,0.4,0.5,0.6,0.7,0.8,0.9,1.0], "tickSize": 3, "tickColor": "#e2e2e2", "domainColor": "#a6a6a6"}},
        "x2": {"field": "hi"},
        "y": {"field": "axons", "type": "quantitative", "scale": {"domain": [0, 400], "nice": false}, "axis": null},
        "color": {"field": "nerve", "type": "nominal", "scale": {"domain": ["Tibial N.", "Peroneal N."], "range": ["#000000", "#808080"]}, "legend": {"title": null}}
      }
    },
    {
      "title": {"text": "Rat #4"},
      "width": 234, "height": 72,
      "data": {"name": "hist"},
      "transform": [{"filter": "datum.rat == 'Rat #4' && datum.nerve == 'Tibial N.'"}],
      "mark": {"type": "bar", "binSpacing": 5},
      "encoding": {
        "x": {"field": "lo", "type": "quantitative", "bin": "binned", "scale": {"domain": [0.1, 1.0], "nice": false, "zero": false},
              "axis": {"title": null, "labels": false, "values": [0.1,0.2,0.3,0.4,0.5,0.6,0.7,0.8,0.9,1.0], "tickSize": 3, "tickColor": "#e2e2e2", "domainColor": "#a6a6a6"}},
        "x2": {"field": "hi"},
        "y": {"field": "axons", "type": "quantitative", "scale": {"domain": [0, 400], "nice": false}, "axis": null},
        "color": {"field": "nerve", "type": "nominal", "scale": {"domain": ["Tibial N.", "Peroneal N."], "range": ["#000000", "#808080"]}, "legend": {"title": null}}
      }
    },
    {
      "title": {"text": "Rat #5", "dx": 10},
      "width": 234, "height": 72,
      "data": {"name": "hist"},
      "transform": [{"filter": "datum.rat == 'Rat #5' && datum.nerve == 'Tibial N.'"}],
      "mark": {"type": "bar", "binSpacing": 5},
      "encoding": {
        "x": {"field": "lo", "type": "quantitative", "bin": "binned", "scale": {"domain": [0.1, 1.0], "nice": false, "zero": false},
              "axis": {"title": null, "labels": false, "values": [0.1,0.2,0.3,0.4,0.5,0.6,0.7,0.8,0.9,1.0], "tickSize": 3, "tickColor": "#e2e2e2", "domainColor": "#a6a6a6"}},
        "x2": {"field": "hi"},
        "y": {"field": "axons", "type": "quantitative", "scale": {"domain": [0, 400], "nice": false}, "axis": null},
        "color": {"field": "nerve", "type": "nominal", "scale": {"domain": ["Tibial N.", "Peroneal N."], "range": ["#000000", "#808080"]}, "legend": {"title": null}}
      }
    },

    {
      "width": 234, "height": 100,
      "resolve": {"axis": {"x": "independent", "y": "independent"}},
      "layer": [
        {
          "data": {"name": "trace"},
          "transform": [{"filter": "datum.rat == 'Rat #1' && datum.muscle == 'GN'"}],
          "mark": {"type": "line", "color": "#000000", "strokeWidth": 1.5},
          "encoding": {
            "x": {"field": "t", "type": "quantitative", "scale": {"domain": [-1.625, 27.625], "nice": false, "zero": false},
                  "axis": {"orient": "bottom", "title": "Time (s)", "labels": false, "domain": false, "values": [0,5,10,15,20,25], "tickSize": 3, "tickColor": "#e6e6e6",
                           "titleX": 127, "titleY": 27, "titleBaseline": "middle"}},
            "y": {"field": "mV", "type": "quantitative", "scale": {"domain": [0, 2], "nice": false},
                  "axis": {"orient": "left", "title": "GN V", "labels": false, "ticks": false, "domain": false, "titleFontSize": 24,
                           "titleX": -48, "titleY": 105, "titleAlign": "left", "titleBaseline": "alphabetic", "titleAngle": -90}}
          }
        },
        {
          "data": {"name": "scalebar"},
          "mark": {"type": "rule", "color": "#000000", "strokeWidth": 2},
          "encoding": {
            "x": {"field": "t", "type": "quantitative", "axis": null}, "x2": {"field": "t2"},
            "y": {"field": "v", "type": "quantitative",
                  "axis": {"orient": "right", "title": "RMS", "labels": false, "ticks": false, "domain": false, "titleFontSize": 14,
                           "titleX": -279, "titleY": 47, "titleAlign": "left", "titleBaseline": "alphabetic", "titleAngle": -90}},
            "y2": {"field": "v2"}
          }
        },
        {
          "data": {"name": "scalebar"},
          "transform": [{"filter": "datum.part == 'vertical'"}],
          "mark": {"type": "point", "shape": "triangle-up", "filled": true, "color": "#000000", "size": 70, "opacity": 1},
          "encoding": {
            "x": {"field": "t2", "type": "quantitative",
                  "axis": {"orient": "top", "title": "(mV)", "labels": false, "ticks": false, "domain": false, "titleFontSize": 24,
                           "titleX": -48, "titleY": 11, "titleAlign": "left", "titleBaseline": "alphabetic", "titleAngle": -90}},
            "y": {"field": "v2", "type": "quantitative", "axis": null}
          }
        },
        {
          "data": {"name": "scalebar"},
          "transform": [{"filter": "datum.part == 'horizontal'"}],
          "mark": {"type": "point", "shape": "triangle-right", "filled": true, "color": "#000000", "size": 70, "opacity": 1},
          "encoding": {"x": {"field": "t2", "type": "quantitative", "axis": null}, "y": {"field": "v2", "type": "quantitative", "axis": null}}
        },
        {
          "data": {"name": "scalebar"},
          "transform": [{"filter": "datum.part == 'vertical'"}],
          "mark": {"type": "text", "align": "right", "baseline": "middle", "dx": -9, "dy": 25, "fontSize": 18, "font": "Liberation Serif", "color": "#000000"},
          "encoding": {"x": {"field": "t", "type": "quantitative", "axis": null}, "y": {"field": "v2", "type": "quantitative", "axis": null}, "text": {"field": "label"}}
        },
        {
          "data": {"name": "scalebar"},
          "transform": [{"filter": "datum.part == 'horizontal'"}],
          "mark": {"type": "text", "align": "center", "baseline": "middle", "dx": -31, "dy": 12, "fontSize": 18, "font": "Liberation Serif", "color": "#000000"},
          "encoding": {"x": {"field": "t2", "type": "quantitative", "axis": null}, "y": {"field": "v", "type": "quantitative", "axis": null}, "text": {"field": "label"}}
        }
      ]
    },
    {
      "width": 234, "height": 100,
      "data": {"name": "trace"},
      "transform": [{"filter": "datum.rat == 'Rat #2' && datum.muscle == 'GN'"}],
      "mark": {"type": "line", "color": "#000000", "strokeWidth": 1.5},
      "encoding": {
        "x": {"field": "t", "type": "quantitative", "scale": {"domain": [-1.375, 27.875], "nice": false, "zero": false},
              "axis": {"title": null, "labels": false, "domain": false, "values": [0,5,10,15,20,25], "tickSize": 3, "tickColor": "#e6e6e6"}},
        "y": {"field": "mV", "type": "quantitative", "scale": {"domain": [0, 2], "nice": false}, "axis": null}
      }
    },
    {
      "width": 234, "height": 100,
      "data": {"name": "trace"},
      "transform": [{"filter": "datum.rat == 'Rat #3' && datum.muscle == 'GN'"}],
      "mark": {"type": "line", "color": "#000000", "strokeWidth": 1.8},
      "encoding": {
        "x": {"field": "t", "type": "quantitative", "scale": {"domain": [-1.05, 26.38], "nice": false, "zero": false},
              "axis": {"title": null, "labels": false, "domain": false, "values": [0,5,10,15,20,25], "tickSize": 3, "tickColor": "#e6e6e6"}},
        "y": {"field": "mV", "type": "quantitative", "scale": {"domain": [0, 2], "nice": false}, "axis": null}
      }
    },
    {
      "width": 234, "height": 100,
      "data": {"name": "trace"},
      "transform": [{"filter": "datum.rat == 'Rat #4' && datum.muscle == 'GN'"}],
      "mark": {"type": "line", "color": "#000000", "strokeWidth": 1.8},
      "encoding": {
        "x": {"field": "t", "type": "quantitative", "scale": {"domain": [-0.5, 28.86], "nice": false, "zero": false},
              "axis": {"title": null, "labels": false, "domain": false, "values": [0,5,10,15,20,25], "tickSize": 3, "tickColor": "#e6e6e6"}},
        "y": {"field": "mV", "type": "quantitative", "scale": {"domain": [0, 2], "nice": false}, "axis": null}
      }
    },
    {
      "width": 234, "height": 100,
      "data": {"name": "trace"},
      "transform": [{"filter": "datum.rat == 'Rat #5' && datum.muscle == 'GN'"}],
      "mark": {"type": "line", "color": "#000000", "strokeWidth": 2.5},
      "encoding": {
        "x": {"field": "t", "type": "quantitative", "scale": {"domain": [0, 29.0], "nice": false, "zero": false},
              "axis": {"title": null, "labels": false, "domain": false, "values": [0,5,10,15,20,25], "tickSize": 3, "tickColor": "#e6e6e6"}},
        "y": {"field": "mV", "type": "quantitative", "scale": {"domain": [0, 2], "nice": false}, "axis": null}
      }
    },

    {
      "width": 234, "height": 72,
      "data": {"name": "hist"},
      "transform": [{"filter": "datum.rat == 'Rat #1' && datum.nerve == 'Peroneal N.'"}],
      "mark": {"type": "bar", "binSpacing": 5},
      "encoding": {
        "x": {"field": "lo", "type": "quantitative", "bin": "binned", "scale": {"domain": [0.1, 1.0], "nice": false, "zero": false},
              "axis": {"title": null, "labels": false, "values": [0.1,0.2,0.3,0.4,0.5,0.6,0.7,0.8,0.9,1.0], "tickSize": 3, "tickColor": "#e2e2e2", "domainColor": "#a6a6a6"}},
        "x2": {"field": "hi"},
        "y": {"field": "axons", "type": "quantitative", "scale": {"domain": [0, 400], "nice": false},
              "axis": {"title": "# Axons", "labels": false, "domain": false, "ticks": false,
                       "titleX": -52, "titleY": 33, "titleBaseline": "alphabetic", "titleAngle": -90}},
        "color": {"field": "nerve", "type": "nominal", "scale": {"domain": ["Tibial N.", "Peroneal N."], "range": ["#000000", "#808080"]}, "legend": {"title": null}}
      }
    },
    {
      "width": 234, "height": 72,
      "data": {"name": "hist"},
      "transform": [{"filter": "datum.rat == 'Rat #2' && datum.nerve == 'Peroneal N.'"}],
      "mark": {"type": "bar", "binSpacing": 5},
      "encoding": {
        "x": {"field": "lo", "type": "quantitative", "bin": "binned", "scale": {"domain": [0.1, 1.0], "nice": false, "zero": false},
              "axis": {"title": null, "labels": false, "values": [0.1,0.2,0.3,0.4,0.5,0.6,0.7,0.8,0.9,1.0], "tickSize": 3, "tickColor": "#e2e2e2", "domainColor": "#a6a6a6"}},
        "x2": {"field": "hi"},
        "y": {"field": "axons", "type": "quantitative", "scale": {"domain": [0, 400], "nice": false}, "axis": null},
        "color": {"field": "nerve", "type": "nominal", "scale": {"domain": ["Tibial N.", "Peroneal N."], "range": ["#000000", "#808080"]}, "legend": {"title": null}}
      }
    },
    {
      "width": 234, "height": 72,
      "data": {"name": "hist"},
      "transform": [{"filter": "datum.rat == 'Rat #3' && datum.nerve == 'Peroneal N.'"}],
      "mark": {"type": "bar", "binSpacing": 5},
      "encoding": {
        "x": {"field": "lo", "type": "quantitative", "bin": "binned", "scale": {"domain": [0.1, 1.0], "nice": false, "zero": false},
              "axis": {"title": null, "labels": false, "values": [0.1,0.2,0.3,0.4,0.5,0.6,0.7,0.8,0.9,1.0], "tickSize": 3, "tickColor": "#e2e2e2", "domainColor": "#a6a6a6"}},
        "x2": {"field": "hi"},
        "y": {"field": "axons", "type": "quantitative", "scale": {"domain": [0, 400], "nice": false}, "axis": null},
        "color": {"field": "nerve", "type": "nominal", "scale": {"domain": ["Tibial N.", "Peroneal N."], "range": ["#000000", "#808080"]}, "legend": {"title": null}}
      }
    },
    {
      "width": 234, "height": 72,
      "data": {"name": "hist"},
      "transform": [{"filter": "datum.rat == 'Rat #4' && datum.nerve == 'Peroneal N.'"}],
      "mark": {"type": "bar", "binSpacing": 5},
      "encoding": {
        "x": {"field": "lo", "type": "quantitative", "bin": "binned", "scale": {"domain": [0.1, 1.0], "nice": false, "zero": false},
              "axis": {"title": null, "labels": false, "values": [0.1,0.2,0.3,0.4,0.5,0.6,0.7,0.8,0.9,1.0], "tickSize": 3, "tickColor": "#e2e2e2", "domainColor": "#a6a6a6"}},
        "x2": {"field": "hi"},
        "y": {"field": "axons", "type": "quantitative", "scale": {"domain": [0, 400], "nice": false}, "axis": null},
        "color": {"field": "nerve", "type": "nominal", "scale": {"domain": ["Tibial N.", "Peroneal N."], "range": ["#000000", "#808080"]}, "legend": {"title": null}}
      }
    },
    {
      "width": 234, "height": 72,
      "data": {"name": "hist"},
      "transform": [{"filter": "datum.rat == 'Rat #5' && datum.nerve == 'Peroneal N.'"}],
      "mark": {"type": "bar", "binSpacing": 5},
      "encoding": {
        "x": {"field": "lo", "type": "quantitative", "bin": "binned", "scale": {"domain": [0.1, 1.0], "nice": false, "zero": false},
              "axis": {"title": null, "labels": false, "values": [0.1,0.2,0.3,0.4,0.5,0.6,0.7,0.8,0.9,1.0], "tickSize": 3, "tickColor": "#e2e2e2", "domainColor": "#a6a6a6"}},
        "x2": {"field": "hi"},
        "y": {"field": "axons", "type": "quantitative", "scale": {"domain": [0, 400], "nice": false}, "axis": null},
        "color": {"field": "nerve", "type": "nominal", "scale": {"domain": ["Tibial N.", "Peroneal N."], "range": ["#000000", "#808080"]}, "legend": {"title": null}}
      }
    },

    {
      "width": 234, "height": 58,
      "resolve": {"axis": {"x": "independent", "y": "independent"}},
      "layer": [
        {
          "data": {"name": "trace"},
          "transform": [{"filter": "datum.rat == 'Rat #1' && datum.muscle == 'TA'"}],
          "mark": {"type": "line", "color": "#808080", "strokeWidth": 1.5},
          "encoding": {
            "x": {"field": "t", "type": "quantitative", "scale": {"domain": [-0.12, 27.74], "nice": false, "zero": false},
                  "axis": {"orient": "bottom", "title": null, "labels": false, "domain": false, "values": [0,5,10,15,20,25], "tickSize": 3, "tickColor": "#e6e6e6"}},
            "y": {"field": "mV", "type": "quantitative", "scale": {"domain": [0, 1.16], "nice": false},
                  "axis": {"orient": "left", "title": "TA V", "labels": false, "ticks": false, "domain": false, "titleFontSize": 24,
                           "titleX": -48, "titleY": 92, "titleAlign": "left", "titleBaseline": "alphabetic", "titleAngle": -90}}
          }
        },
        {
          "data": {"name": "trace"},
          "transform": [{"filter": "datum.rat == 'Rat #1' && datum.muscle == 'TA'"}],
          "mark": {"type": "line", "color": "#808080", "strokeWidth": 1.5, "strokeOpacity": 0},
          "encoding": {
            "x": {"field": "t", "type": "quantitative", "axis": null},
            "y": {"field": "mV", "type": "quantitative",
                  "axis": {"orient": "right", "title": "RMS", "labels": false, "ticks": false, "domain": false, "titleFontSize": 14,
                           "titleX": -279, "titleY": 37, "titleAlign": "left", "titleBaseline": "alphabetic", "titleAngle": -90}}
          }
        },
        {
          "data": {"name": "trace"},
          "transform": [{"filter": "datum.rat == 'Rat #1' && datum.muscle == 'TA'"}],
          "mark": {"type": "line", "color": "#808080", "strokeWidth": 1.5, "strokeOpacity": 0},
          "encoding": {
            "x": {"field": "t", "type": "quantitative",
                  "axis": {"orient": "top", "title": "(mV)", "labels": false, "ticks": false, "domain": false, "titleFontSize": 24,
                           "titleX": -48, "titleY": 1, "titleAlign": "left", "titleBaseline": "alphabetic", "titleAngle": -90}},
            "y": {"field": "mV", "type": "quantitative", "axis": null}
          }
        }
      ]
    },
    {
      "width": 234, "height": 58,
      "data": {"name": "trace"},
      "transform": [{"filter": "datum.rat == 'Rat #2' && datum.muscle == 'TA'"}],
      "mark": {"type": "line", "color": "#808080", "strokeWidth": 1.5},
      "encoding": {
        "x": {"field": "t", "type": "quantitative", "scale": {"domain": [0, 27.53], "nice": false, "zero": false},
              "axis": {"title": null, "labels": false, "domain": false, "values": [0,5,10,15,20,25], "tickSize": 3, "tickColor": "#e6e6e6"}},
        "y": {"field": "mV", "type": "quantitative", "scale": {"domain": [0, 1.16], "nice": false}, "axis": null}
      }
    },
    {
      "width": 234, "height": 58,
      "data": {"name": "trace"},
      "transform": [{"filter": "datum.rat == 'Rat #3' && datum.muscle == 'TA'"}],
      "mark": {"type": "line", "color": "#808080", "strokeWidth": 1.8},
      "encoding": {
        "x": {"field": "t", "type": "quantitative", "scale": {"domain": [-0.23, 27.2], "nice": false, "zero": false},
              "axis": {"title": null, "labels": false, "domain": false, "values": [0,5,10,15,20,25], "tickSize": 3, "tickColor": "#e6e6e6"}},
        "y": {"field": "mV", "type": "quantitative", "scale": {"domain": [0, 1.16], "nice": false}, "axis": null}
      }
    },
    {
      "width": 234, "height": 58,
      "data": {"name": "trace"},
      "transform": [{"filter": "datum.rat == 'Rat #4' && datum.muscle == 'TA'"}],
      "mark": {"type": "line", "color": "#808080", "strokeWidth": 1.8},
      "encoding": {
        "x": {"field": "t", "type": "quantitative", "scale": {"domain": [-0.76, 28.74], "nice": false, "zero": false},
              "axis": {"title": null, "labels": false, "domain": false, "values": [0,5,10,15,20,25], "tickSize": 3, "tickColor": "#e6e6e6"}},
        "y": {"field": "mV", "type": "quantitative", "scale": {"domain": [0, 1.16], "nice": false}, "axis": null}
      }
    },
    {
      "width": 234, "height": 58,
      "data": {"name": "trace"},
      "transform": [{"filter": "datum.rat == 'Rat #5' && datum.muscle == 'TA'"}],
      "mark": {"type": "line", "color": "#808080", "strokeWidth": 1.8},
      "encoding": {
        "x": {"field": "t", "type": "quantitative", "scale": {"domain": [-0.62, 28.38], "nice": false, "zero": false},
              "axis": {"title": null, "labels": false, "domain": false, "values": [0,5,10,15,20,25], "tickSize": 3, "tickColor": "#e6e6e6"}},
        "y": {"field": "mV", "type": "quantitative", "scale": {"domain": [0, 1.16], "nice": false}, "axis": null}
      }
    }
  ],
  "config": {
    "font": "Liberation Serif",
    "view": {"stroke": null},
    "axis": {"grid": false, "labelFont": "Liberation Serif", "titleFont": "Liberation Serif", "titleFontWeight": "normal",
             "labelColor": "#000000", "titleColor": "#000000", "labelFontSize": 17, "titleFontSize": 23},
    "title": {"font": "Liberation Serif", "fontSize": 22, "fontWeight": "normal", "color": "#000000", "offset": 13},
    "legend": {"orient": "none", "legendX": 341, "legendY": 139, "symbolType": "square", "symbolSize": 324, "symbolStrokeWidth": 0,
               "labelFont": "Liberation Serif", "labelFontSize": 22, "labelColor": "#000000", "labelOffset": 9, "rowPadding": 14, "padding": 0}
  }
}
